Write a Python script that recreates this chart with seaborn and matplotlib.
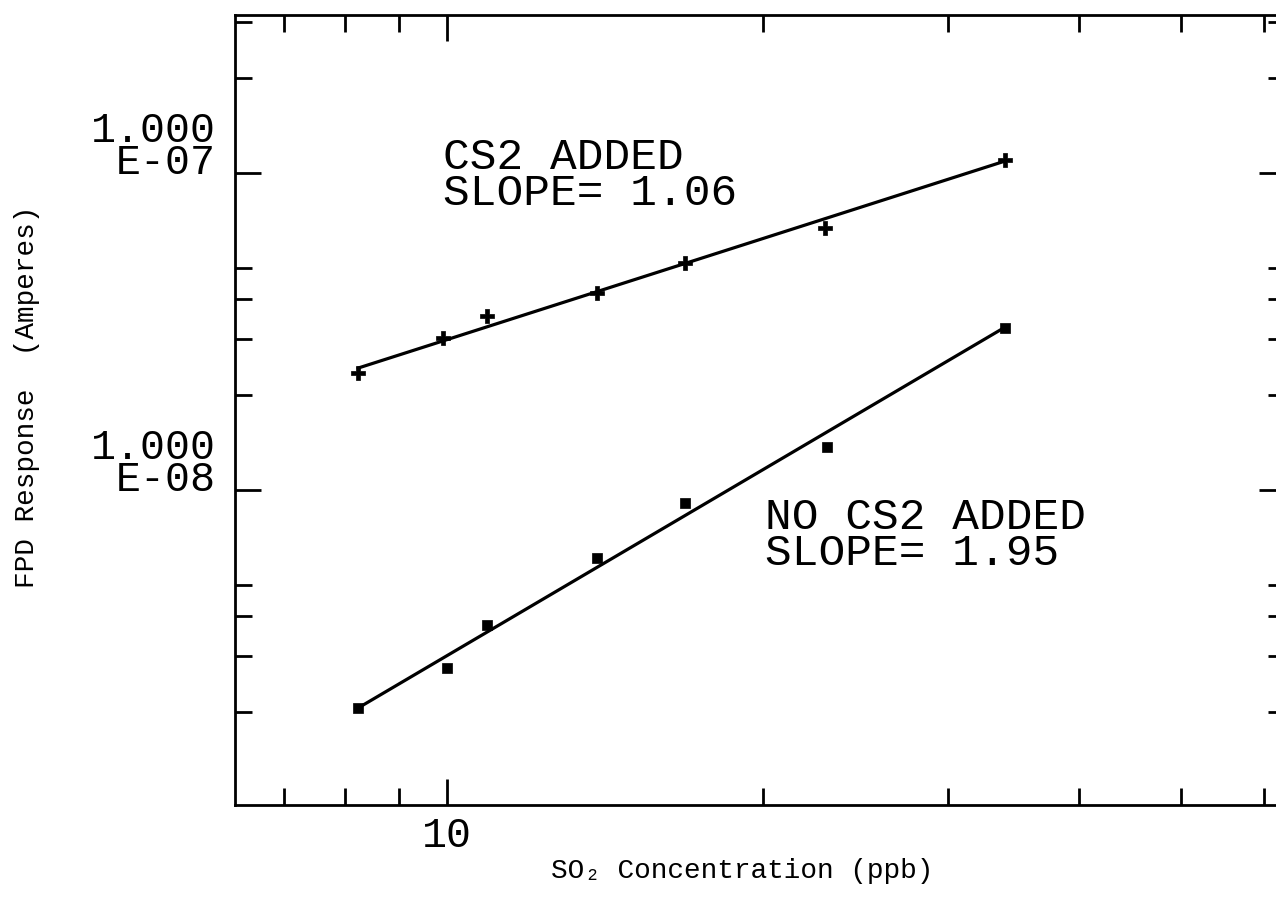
import numpy as np
import pandas as pd
import matplotlib
matplotlib.use("Agg")
import matplotlib.pyplot as plt
from matplotlib.ticker import FixedLocator, FixedFormatter, NullFormatter
from matplotlib.transforms import ScaledTranslation
import seaborn as sns

# SO2 concentrations (ppb) and FPD response (A)
conc_cs2 = [8.23, 9.91, 10.92, 13.9, 16.85, 22.9, 34.0]
resp_cs2 = [2.34e-8, 3.02e-8, 3.54e-8, 4.18e-8, 5.20e-8, 6.71e-8, 1.10e-7]
conc_plain = [8.23, 10.0, 10.92, 13.9, 16.85, 23.0, 34.0]
resp_plain = [2.05e-9, 2.74e-9, 3.75e-9, 6.10e-9, 9.10e-9, 1.367e-8, 3.24e-8]
slopes = [1.06, 1.95]
series_names = ["CS2 ADDED", "NO CS2 ADDED"]

x_major = [10]
x_major_labels = ["10"]
x_minor = [7, 8, 9, 20, 30, 40, 50, 60]
y_major = [1e-8, 1e-7]
y_major_labels = ["1.000\nE-08", "1.000\nE-07"]
y_minor = [2e-9, 3e-9, 4e-9, 5e-9, 2e-8, 3e-8, 4e-8, 5e-8, 2e-7, 3e-7]

sns.set_theme(style="ticks")
plt.rcParams["font.family"] = ["Liberation Mono", "DejaVu Sans Mono"]

W, H = 1276, 899
fig = plt.figure(figsize=(W / 100, H / 100), dpi=100)
left, right, top, bottom = 235, 1285, 15, 805
ax = fig.add_axes([left / W, 1 - bottom / H, (right - left) / W, (bottom - top) / H])

df = pd.concat([
    pd.DataFrame({"conc": conc_cs2, "resp": resp_cs2, "series": series_names[0]}),
    pd.DataFrame({"conc": conc_plain, "resp": resp_plain, "series": series_names[1]}),
])


def fixed_slope_line(x, y, slope):
    lx, ly = np.log10(x), np.log10(y)
    xs = np.array([lx.min(), lx.max()])
    ys = ly.mean() + slope * (xs - lx.mean())
    return pd.DataFrame({"conc": 10 ** xs, "resp": 10 ** ys})


for name, slope, marker, size in zip(series_names, slopes, ["P", "s"], [90, 45]):
    sub = df[df["series"] == name]
    fit = fixed_slope_line(sub["conc"].to_numpy(), sub["resp"].to_numpy(), slope)
    sns.lineplot(data=fit, x="conc", y="resp", color="black", lw=2.3, ax=ax)
    sns.scatterplot(data=sub, x="conc", y="resp", marker=marker, s=size,
                    color="black", edgecolor="black", linewidth=0.5, ax=ax, zorder=3)

ax.set_xscale("log")
ax.set_yscale("log")
ax.set_xlim(6.283, 62.8)
ax.set_ylim(1.015e-9, 3.15e-7)

ax.xaxis.set_major_locator(FixedLocator(x_major))
ax.xaxis.set_major_formatter(FixedFormatter(x_major_labels))
ax.xaxis.set_minor_locator(FixedLocator(x_minor))
ax.xaxis.set_minor_formatter(NullFormatter())
ax.yaxis.set_major_locator(FixedLocator(y_major))
ax.yaxis.set_major_formatter(FixedFormatter(y_major_labels))
ax.yaxis.set_minor_locator(FixedLocator(y_minor))
ax.yaxis.set_minor_formatter(NullFormatter())

ax.tick_params(which="both", direction="in", top=True, right=True, color="black", width=2)
ax.tick_params(which="major", length=19, labelsize=30, labelcolor="black")
ax.tick_params(axis="y", which="major", pad=14)
ax.tick_params(axis="x", which="major", pad=8)
ax.tick_params(which="minor", length=12)
shift_down = ScaledTranslation(0, -10 / 100, fig.dpi_scale_trans)
for lab in ax.get_yticklabels():
    lab.set_linespacing(0.75)
    lab.set_verticalalignment("bottom")
    lab.set_transform(lab.get_transform() + shift_down)

for sp in ax.spines.values():
    sp.set_linewidth(2.0)
    sp.set_color("black")

ax.set_xlabel("SO₂ Concentration (ppb)", fontsize=20, color="black")
ax.set_ylabel("FPD Response  (Amperes)", fontsize=20, color="black")
ax.xaxis.set_label_coords((742 - left) / (right - left), -(858 - bottom) / (bottom - top))
ax.yaxis.set_label_coords(-(left - 40) / (right - left), (bottom - 397) / (bottom - top))

# slope annotations, one two-line block per series (anchored on the last line)
note_kw = dict(fontsize=32, color="black", va="baseline", ha="left", linespacing=0.85)
ax.text(9.91, 7.93e-8, f"{series_names[0]}\nSLOPE= {slopes[0]:.2f}", **note_kw)
ax.text(20.09, 5.80e-9, f"{series_names[1]}\nSLOPE= {slopes[1]:.2f}", **note_kw)

fig.savefig("out.png", dpi=100)
